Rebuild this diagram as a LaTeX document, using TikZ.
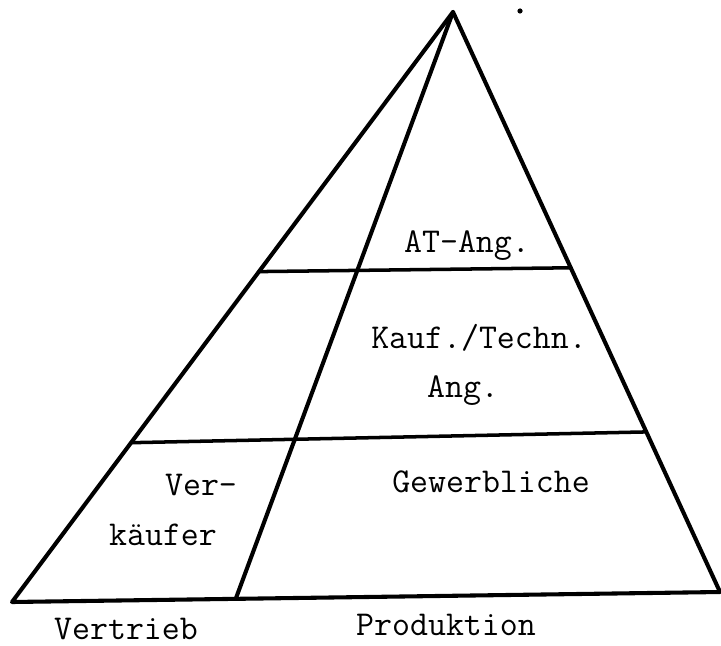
\documentclass[tikz,border=0pt]{standalone}
\usepackage{fontspec}
\usetikzlibrary{calc}

\begin{document}
\begin{tikzpicture}[every node/.style={font=\ttfamily\fontsize{24.8}{29}\selectfont,inner sep=0pt,anchor=base}]
\definecolor{INK}{HTML}{000000}
\tikzset{side/.style={INK,line width=2.9pt,line cap=round,line join=round}}
\useasboundingbox (0,0) rectangle (18.025,16.125);
\coordinate (top) at (11.325,15.825);
\coordinate (bl) at (0.3,1.075);
\coordinate (br) at (18.0,1.325);
\coordinate (mid) at ($(bl)!0.316!(br)$);
\coordinate (l1a) at ($(top)!0.44!(bl)$);
\coordinate (l1b) at ($(top)!0.441!(br)$);
\coordinate (l2a) at ($(top)!0.73!(bl)$);
\coordinate (l2b) at ($(top)!0.724!(br)$);
\draw[side] (top)--(bl)--(br)--cycle;
\draw[side] (top)--(mid);
\draw[side,line width=2.5pt] (l1a)--(l1b);
\draw[side,line width=2.5pt] (l2a)--(l2b);
\fill[INK] (13.0,15.85) circle (0.065);
\node (atang) at (11.675,9.825) {AT-Ang.};
\node (kauf) at (11.975,7.425) {Kauf./Techn.};
\node (ang) at (11.575,6.2) {Ang.};
\node (ver) at (5.025,3.75) {Ver-};
\node (kaeufer) at (4.075,2.5) {käufer};
\node (gewerb) at (12.275,3.825) {Gewerbliche};
\node (vertrieb) at (3.15,0.15) {Vertrieb};
\node (prod) at (11.15,0.25) {Produktion};
\end{tikzpicture}
\end{document}
